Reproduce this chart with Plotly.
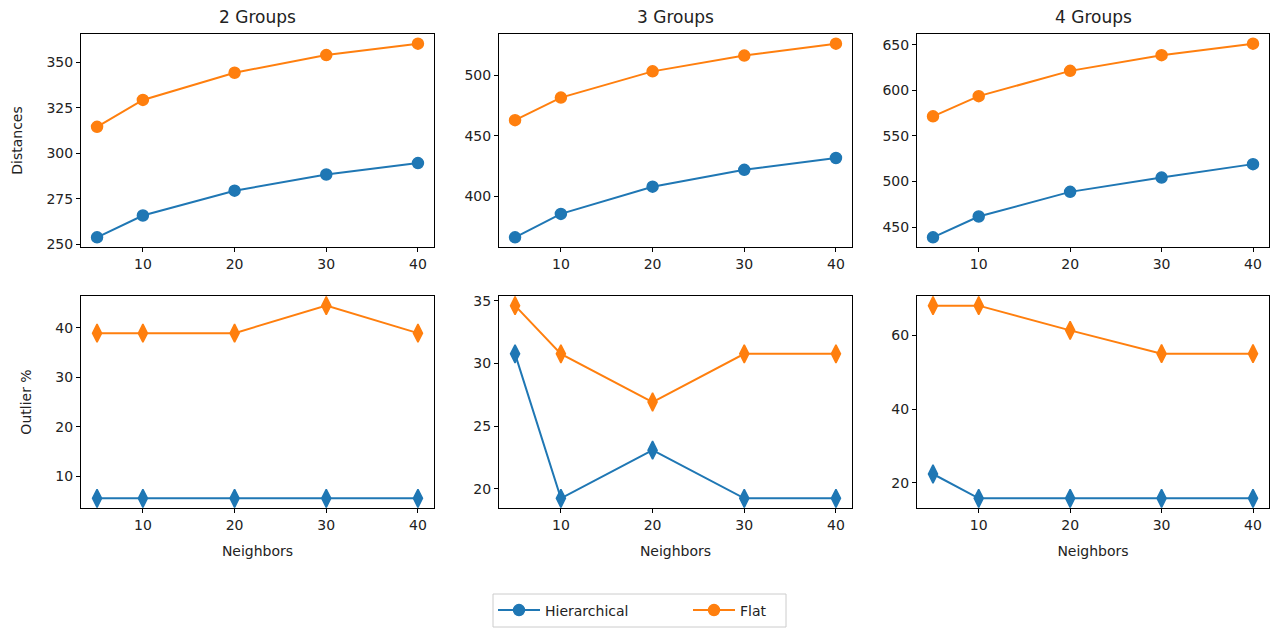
import plotly.graph_objects as go

neighbors = [5, 10, 20, 30, 40]
groups = ["2 Groups", "3 Groups", "4 Groups"]
series_names = ["Hierarchical", "Flat"]

dist_hier = [
    [253.7, 265.7, 279.4, 288.3, 294.6],
    [366.3, 385.6, 408.0, 421.9, 431.6],
    [438.9, 461.7, 488.7, 504.4, 519.1],
]
dist_flat = [
    [314.6, 329.4, 344.4, 354.1, 360.4],
    [462.8, 481.4, 503.0, 516.0, 525.8],
    [571.5, 593.6, 621.3, 638.5, 651.1],
]
out_hier = [
    [5.56, 5.56, 5.56, 5.56, 5.56],
    [30.77, 19.23, 23.08, 19.23, 19.23],
    [22.4, 15.8, 15.8, 15.8, 15.8],
]
out_flat = [
    [38.89, 38.89, 38.89, 44.44, 38.89],
    [34.62, 30.77, 26.92, 30.77, 30.77],
    [68.0, 68.0, 61.3, 55.0, 55.0],
]

y_ticks_top = [
    [250, 275, 300, 325, 350],
    [400, 450, 500],
    [450, 500, 550, 600, 650],
]
y_ticks_bot = [
    [10, 20, 30, 40],
    [20, 25, 30, 35],
    [20, 40, 60],
]
x_ticks = [10, 20, 30, 40]

colors = ["#1f77b4", "#ff7f0e"]
W, H = 1274, 628
FONT = "DejaVu Sans"
TXT = "#222222"

col_px = [(81, 434), (499, 852), (917, 1269)]
row_px = [(34, 247), (296, 508)]
legend_box_px = (493, 594, 786, 627)


def pad_range(vals, frac=0.05):
    lo, hi = min(vals), max(vals)
    d = (hi - lo) * frac
    return [lo - d, hi + d]


xr = pad_range(neighbors)

fig = go.Figure()
axis_common = dict(
    showline=True, linecolor="black", linewidth=1, mirror=True,
    ticks="outside", ticklen=4, tickwidth=1, tickcolor="black",
    showgrid=False, zeroline=False, automargin=False,
    tickfont=dict(family=FONT, size=14, color=TXT),
)

layout = {}
idx = 0
for r in range(2):
    for c in range(3):
        idx += 1
        xa = "xaxis" if idx == 1 else f"xaxis{idx}"
        ya = "yaxis" if idx == 1 else f"yaxis{idx}"
        xref = "x" if idx == 1 else f"x{idx}"
        yref = "y" if idx == 1 else f"y{idx}"
        if r == 0:
            hs, fs = dist_hier[c], dist_flat[c]
            sym = "circle"
            size = 11
            yt = y_ticks_top[c]
        else:
            hs, fs = out_hier[c], out_flat[c]
            sym = "diamond-tall"
            size = 13
            yt = y_ticks_bot[c]
        for k, vals in enumerate([hs, fs]):
            fig.add_trace(go.Scatter(
                x=neighbors, y=vals, mode="lines+markers",
                name=series_names[k],
                line=dict(color=colors[k], width=2),
                marker=dict(symbol=sym, size=size, color=colors[k],
                            line=dict(color=colors[k], width=1.5)),
                xaxis=xref, yaxis=yref,
                showlegend=(idx == 1),
            ))
        x0, x1 = col_px[c]
        y0, y1 = row_px[r]
        xd = dict(axis_common, domain=[x0 / W, x1 / W], range=xr,
                  tickvals=x_ticks, anchor=yref)
        yd = dict(axis_common, domain=[1 - y1 / H, 1 - y0 / H],
                  range=pad_range(hs + fs), tickvals=yt, anchor=xref)
        if r == 1:
            xd["title"] = dict(text="Neighbors", standoff=14,
                               font=dict(family=FONT, size=14, color=TXT))
        if c == 0:
            yd["title"] = dict(text="Distances" if r == 0 else "Outlier %",
                               standoff=20,
                               font=dict(family=FONT, size=14, color=TXT))
        layout[xa] = xd
        layout[ya] = yd

annotations = []
for c in range(3):
    x0, x1 = col_px[c]
    annotations.append(dict(
        text=groups[c], x=(x0 + x1) / 2 / W, y=1 - 17 / H,
        xref="paper", yref="paper", xanchor="center", yanchor="middle",
        showarrow=False, font=dict(family=FONT, size=17, color=TXT),
    ))

lx0, ly0, lx1, ly1 = legend_box_px
shapes = [dict(
    type="rect", xref="paper", yref="paper",
    x0=lx0 / W, x1=lx1 / W, y0=1 - ly1 / H, y1=1 - ly0 / H,
    line=dict(color="#cccccc", width=1), fillcolor="rgba(0,0,0,0)",
)]

fig.update_layout(
    width=W, height=H,
    margin=dict(l=0, r=0, t=0, b=0, autoexpand=False),
    paper_bgcolor="white", plot_bgcolor="white",
    annotations=annotations,
    shapes=shapes,
    legend=dict(
        orientation="h", x=lx0 / W, y=1 - (ly0 + ly1) / 2 / H,
        xanchor="left", yanchor="middle",
        borderwidth=0, bgcolor="rgba(0,0,0,0)",
        entrywidth=138, entrywidthmode="pixels", itemwidth=42,
        font=dict(family=FONT, size=14, color=TXT),
    ),
    **layout,
)

fig.write_html("out.html", config={"displayModeBar": False},
               post_script="document.body.style.margin='0px';")
